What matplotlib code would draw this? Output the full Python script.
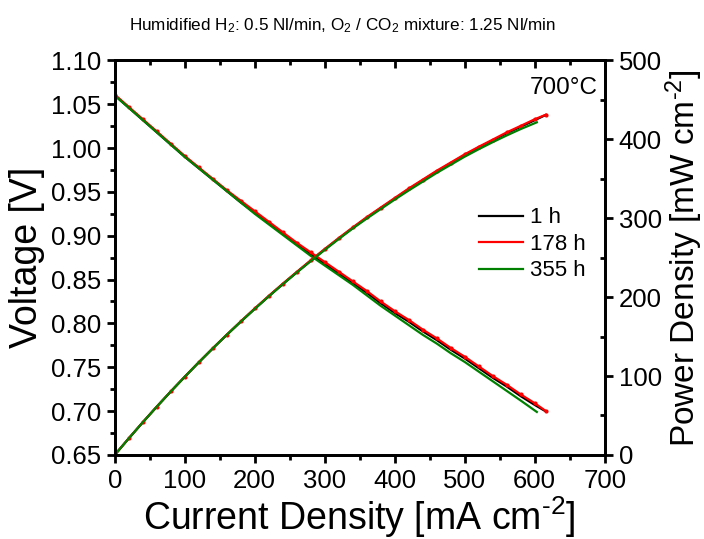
import matplotlib
matplotlib.use("Agg")
import matplotlib.pyplot as plt
from matplotlib.ticker import MultipleLocator, FormatStrFormatter
import numpy as np

plt.rcParams["font.family"] = ["Liberation Sans", "DejaVu Sans"]
plt.rcParams["mathtext.fontset"] = "custom"
plt.rcParams["mathtext.rm"] = "Liberation Sans"
plt.rcParams["mathtext.it"] = "Liberation Sans:italic"
plt.rcParams["mathtext.bf"] = "Liberation Sans:bold"
plt.rcParams["mathtext.default"] = "regular"

# Current density [mA cm-2] and cell voltage [V] for each operating time
j_1h = [0, 20, 40, 60, 80, 100, 120, 140, 160, 180, 200, 220, 240, 260, 280, 300,
        320, 340, 360, 380, 400, 420, 440, 460, 480, 500, 520, 540, 560, 580, 600, 615]
v_1h = [1.060, 1.046, 1.032, 1.018, 1.004, 0.990, 0.977, 0.964, 0.951, 0.938, 0.926,
        0.914, 0.902, 0.890, 0.879, 0.868, 0.857, 0.846, 0.835, 0.823, 0.812, 0.802,
        0.791, 0.781, 0.770, 0.760, 0.749, 0.738, 0.728, 0.717, 0.707, 0.700]

j_178h = [0, 20, 40, 60, 80, 100, 120, 140, 160, 180, 200, 220, 240, 260, 280, 300,
          320, 340, 360, 380, 400, 420, 440, 460, 480, 500, 520, 540, 560, 580, 600, 616]
v_178h = [1.061, 1.047, 1.033, 1.019, 1.005, 0.991, 0.978, 0.965, 0.952, 0.940, 0.928,
          0.916, 0.904, 0.892, 0.881, 0.870, 0.859, 0.848, 0.837, 0.825, 0.814, 0.804,
          0.793, 0.783, 0.772, 0.762, 0.751, 0.740, 0.730, 0.719, 0.709, 0.700]

j_355h = [0, 20, 40, 60, 80, 100, 120, 140, 160, 180, 200, 220, 240, 260, 280, 300,
          320, 340, 360, 380, 400, 420, 440, 460, 480, 500, 520, 540, 560, 580, 603]
v_355h = [1.060, 1.046, 1.032, 1.018, 1.004, 0.990, 0.977, 0.964, 0.951, 0.938, 0.925,
          0.913, 0.901, 0.889, 0.877, 0.866, 0.855, 0.844, 0.832, 0.820, 0.809, 0.798,
          0.787, 0.777, 0.766, 0.756, 0.745, 0.734, 0.723, 0.712, 0.699]

labels = ["1 h", "178 h", "355 h"]
colors = ["#000000", "#ff0000", "#008000"]

series = [(j_1h, v_1h), (j_178h, v_178h), (j_355h, v_355h)]

fig = plt.figure(figsize=(7.04, 5.39), dpi=100)
ax = fig.add_axes([0.163, 0.156, 0.696, 0.732])
ax2 = ax.twinx()

for (j, v), lab, c in zip(series, labels, colors):
    j = np.asarray(j, float)
    v = np.asarray(v, float)
    p = j * v  # power density in mW cm-2
    ax.plot(j, v, color=c, lw=1.6, label=lab)
    ax2.plot(j, p, color=c, lw=1.6)
    if c == "#ff0000":
        # measured points of the 178 h sweep
        ax.plot(j, v, ls="none", marker="o", ms=3, mew=0, color=c)
        ax2.plot(j, p, ls="none", marker="o", ms=3, mew=0, color=c)

ax.set_xlim(0, 700)
ax.set_ylim(0.65, 1.10)
ax2.set_ylim(0, 500)

ax.xaxis.set_major_locator(MultipleLocator(100))
ax.xaxis.set_minor_locator(MultipleLocator(50))
ax.yaxis.set_major_locator(MultipleLocator(0.05))
ax.yaxis.set_minor_locator(MultipleLocator(0.025))
ax2.yaxis.set_major_locator(MultipleLocator(100))
ax2.yaxis.set_minor_locator(MultipleLocator(50))
ax.yaxis.set_major_formatter(FormatStrFormatter("%.2f"))

lw_axis = 2.0
for a in (ax, ax2):
    for s in a.spines.values():
        s.set_linewidth(lw_axis)

ax.tick_params(axis="both", which="major", direction="out", length=6, width=lw_axis,
               labelsize=18.5, right=False, top=False, pad=4)
ax.tick_params(axis="both", which="minor", direction="out", length=3.5, width=lw_axis,
               right=False, top=False)
ax2.tick_params(axis="y", which="major", direction="out", length=6, width=lw_axis,
                labelsize=18.5, pad=4)
ax2.tick_params(axis="y", which="minor", direction="in", length=3.5, width=lw_axis)

top = ax.secondary_xaxis("top")
top.xaxis.set_major_locator(MultipleLocator(100))
top.xaxis.set_minor_locator(MultipleLocator(50))
top.tick_params(which="major", direction="in", length=6, width=lw_axis, labeltop=False)
top.tick_params(which="minor", direction="in", length=3.5, width=lw_axis)
top.spines["top"].set_linewidth(lw_axis)

sup = r"$^{\text{-}2}$"
ax.set_xlabel("Current Density [mA cm" + sup + "]", fontsize=27, labelpad=1)
ax.set_ylabel("Voltage [V]", fontsize=27, labelpad=4)
ax2.set_ylabel("Power Density [mW cm" + sup + "]", fontsize=24, labelpad=1)

ax.text(0.985, 0.93, "700°C", transform=ax.transAxes, ha="right", va="center", fontsize=17.5)

leg = ax.legend(loc="upper left", bbox_to_anchor=(0.725, 0.65), frameon=False, fontsize=16,
                handlelength=2.0, handletextpad=0.3, labelspacing=0.25, borderaxespad=0)

fig.text(0.486, 0.953, "Humidified H$_2$: 0.5 Nl/min, O$_2$ / CO$_2$ mixture: 1.25 Nl/min",
         ha="center", va="center", fontsize=12.3)

fig.savefig("out.png", dpi=100)
